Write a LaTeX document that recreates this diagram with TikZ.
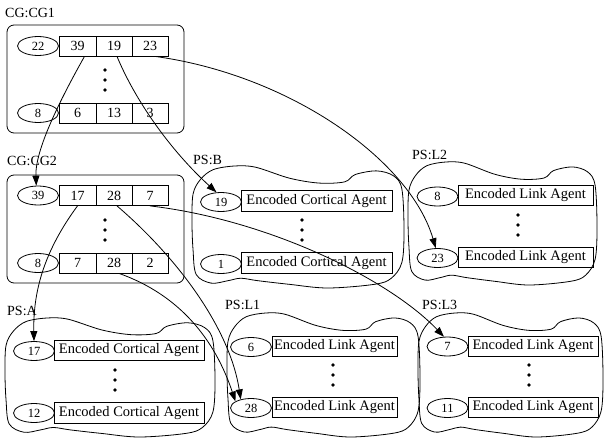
\documentclass[tikz,border=0pt]{standalone}
\usepackage{fontspec}
\setmainfont{Liberation Serif}
\usetikzlibrary{shapes.geometric,arrows.meta}
\newcommand\blobshape[4]{%
  \begin{scope}[shift={(#1,#2)},x=#3pt,y=-#4pt]
    \draw[line width=0.8pt] plot[smooth cycle,tension=0.55] coordinates {
      (0.005,0.23) (0.04,0.11) (0.1,0.03) (0.2,0.0) (0.3,0.01) (0.46,0.1)
      (0.6,0.14) (0.72,0.13) (0.77,0.07) (0.87,0.04) (0.95,0.08) (0.99,0.19)
      (1.0,0.53) (0.99,0.79) (0.94,0.92) (0.86,0.97) (0.64,1.0) (0.46,0.97)
      (0.31,0.94) (0.23,0.92) (0.17,0.94) (0.09,0.96) (0.02,0.89) (0.005,0.69)
      (0.0,0.46)};
  \end{scope}}
\tikzset{
  oval/.style={ellipse,draw,line width=0.8pt,minimum width=41pt,minimum height=19pt,inner sep=0pt,font=\fontsize{12.5}{13}\selectfont},
  cell/.style={rectangle,draw,line width=0.8pt,minimum height=20pt,inner sep=0pt,font=\fontsize{14}{15}\selectfont},
  agent/.style={rectangle,draw,line width=0.8pt,minimum height=20.5pt,inner sep=0pt,font=\fontsize{14.5}{15}\selectfont},
  dotm/.style={circle,fill,inner sep=0pt,minimum size=3.6pt},
  lbl/.style={anchor=west,inner sep=0pt,font=\fontsize{14}{15}\selectfont},
  cgbox/.style={rectangle,draw,line width=0.8pt,rounded corners=7pt,inner sep=0pt},
  arr/.style={line width=0.8pt,-{Triangle[length=10pt,width=7pt]}}
}
\begin{document}
\begin{tikzpicture}[x=1pt,y=-1pt]
\useasboundingbox (0,0) rectangle (604,441);
% ---------- CG:CG1
\node[lbl] (lcg1) at (5,12.5) {CG:CG1};
\node[cgbox,minimum width=177pt,minimum height=108pt] (cg1) at (95.5,79) {};
\node[oval] (g1e) at (38,46) {22};
\node[cell,minimum width=37pt] (g1c1) at (77.5,46) {39};
\node[cell,minimum width=36pt] (g1c2) at (114,46) {19};
\node[cell,minimum width=36pt] (g1c3) at (150,46) {23};
\node[dotm] (g1d1) at (105,70) {};
\node[dotm] (g1d2) at (105,80) {};
\node[dotm] (g1d3) at (105,90) {};
\node[oval] (g1f) at (38,113) {8};
\node[cell,minimum width=37pt] (g1b1) at (77.5,113) {6};
\node[cell,minimum width=36pt] (g1b2) at (114,113) {13};
\node[cell,minimum width=36pt] (g1b3) at (150,113) {3};
% ---------- CG:CG2
\node[lbl] (lcg2) at (7,161) {CG:CG2};
\node[cgbox,minimum width=177pt,minimum height=108pt] (cg2) at (95.5,229) {};
\node[oval] (g2e) at (38,195.5) {39};
\node[cell,minimum width=37pt] (g2c1) at (77.5,195.5) {17};
\node[cell,minimum width=36pt] (g2c2) at (114,195.5) {28};
\node[cell,minimum width=36pt] (g2c3) at (150,195.5) {7};
\node[dotm] (g2d1) at (105,220) {};
\node[dotm] (g2d2) at (105,230) {};
\node[dotm] (g2d3) at (105,240) {};
\node[oval] (g2f) at (38,263) {8};
\node[cell,minimum width=37pt] (g2b1) at (77.5,263) {7};
\node[cell,minimum width=36pt] (g2b2) at (114,263) {28};
\node[cell,minimum width=36pt] (g2b3) at (150,263) {2};
% ---------- PS:B
\node[lbl] (lpsb) at (193,160) {PS:B};
\blobshape{192}{166}{212}{122}
\node[oval] (be1) at (221,202) {19};
\node[agent,minimum width=151pt] (ba1) at (316.5,201) {Encoded Cortical Agent};
\node[dotm] (bd1) at (302,220) {};
\node[dotm] (bd2) at (302,230) {};
\node[dotm] (bd3) at (302,240) {};
\node[oval] (be2) at (221,264) {1};
\node[agent,minimum width=151pt] (ba2) at (316.5,263) {Encoded Cortical Agent};
% ---------- PS:L2
\node[lbl] (lpsl2) at (412,155) {PS:L2};
\blobshape{408}{162}{189}{123}
\node[oval] (l2e1) at (437.5,196.5) {8};
\node[agent,minimum width=135pt] (l2a1) at (525.5,195.5) {Encoded Link Agent};
\node[dotm] (l2d1) at (518,215) {};
\node[dotm] (l2d2) at (518,225) {};
\node[dotm] (l2d3) at (518,235) {};
\node[oval] (l2e2) at (437.5,258) {23};
\node[agent,minimum width=135pt] (l2a2) at (525.5,257.5) {Encoded Link Agent};
% ---------- PS:A
\node[lbl] (lpsa) at (7,311) {PS:A};
\blobshape{5}{318}{210}{119}
\node[oval] (ae1) at (34,351) {17};
\node[agent,minimum width=150pt] (aa1) at (129,350.5) {Encoded Cortical Agent};
\node[dotm] (ad1) at (115,370) {};
\node[dotm] (ad2) at (115,380) {};
\node[dotm] (ad3) at (115,390) {};
\node[oval] (ae2) at (34,413) {12};
\node[agent,minimum width=150pt] (aa2) at (129,413) {Encoded Cortical Agent};
% ---------- PS:L1
\node[lbl] (lpsl1) at (225,305) {PS:L1};
\blobshape{227}{313}{193}{124}
\node[oval] (l1e1) at (251,347) {6};
\node[agent,minimum width=125pt] (l1a1) at (334.5,346.5) {Encoded Link Agent};
\node[dotm] (l1d1) at (333,365) {};
\node[dotm] (l1d2) at (333,375) {};
\node[dotm] (l1d3) at (333,385) {};
\node[oval] (l1e2) at (251,408) {28};
\node[agent,minimum width=125pt] (l1a2) at (334.5,407.5) {Encoded Link Agent};
% ---------- PS:L3
\node[lbl] (lpsl3) at (422,305) {PS:L3};
\blobshape{418}{313}{185}{124}
\node[oval] (l3e1) at (447.5,346.5) {7};
\node[agent,minimum width=130pt] (l3a1) at (533,346.5) {Encoded Link Agent};
\node[dotm] (l3d1) at (529,365) {};
\node[dotm] (l3d2) at (529,375) {};
\node[dotm] (l3d3) at (529,385) {};
\node[oval] (l3e2) at (447.5,408) {11};
\node[agent,minimum width=130pt] (l3a2) at (533,407.5) {Encoded Link Agent};
% ---------- connectors
\draw[arr] ([xshift=7pt]g1c1.south) .. controls (60,100) and (35,150) .. (g2e.100);
\draw[arr] ([xshift=3pt]g1c2.south) .. controls (135,100) and (170,150) .. (be1.115);
\draw[arr] ([xshift=5pt]g1c3.south) .. controls (290,75) and (410,160) .. (l2e2.100);
\draw[arr] (g2c1.south) .. controls (45,250) and (33,290) .. (ae1.north);
\draw[arr] ([xshift=3pt]g2c2.south) .. controls (180,260) and (230,330) .. (l1e2.140);
\draw[arr] (g2c3.south) .. controls (270,220) and (390,280) .. (l3e1.110);
\draw[arr] ([xshift=5pt]g2b2.south) .. controls (180,295) and (215,340) .. (l1e2.157);
\end{tikzpicture}
\end{document}
